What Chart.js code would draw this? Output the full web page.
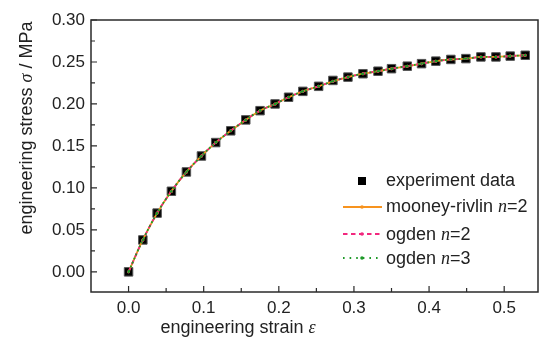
<!DOCTYPE html>
<html>
<head>
<meta charset="utf-8">
<script src="https://cdn.jsdelivr.net/npm/chart.js@4.4.1/dist/chart.umd.min.js"></script>
<style>
  html, body { margin: 0; padding: 0; background: #fff; }
  #wrap { width: 545px; height: 337px; }
</style>
</head>
<body>
<div id="wrap"><canvas id="c" width="545" height="337"></canvas></div>
<script>
// Engineering strain of each measurement
const strain = [0.000, 0.019, 0.038, 0.057, 0.077, 0.097, 0.116, 0.136, 0.156, 0.175,
                0.195, 0.213, 0.232, 0.253, 0.272, 0.292, 0.312, 0.332, 0.350, 0.371,
                0.390, 0.409, 0.429, 0.449, 0.469, 0.489, 0.508, 0.528];
// Measured engineering stress (MPa)
const stressExperiment = [0.000, 0.038, 0.070, 0.096, 0.119, 0.138, 0.154, 0.168, 0.181, 0.192,
                          0.200, 0.208, 0.215, 0.221, 0.228, 0.232, 0.236, 0.239, 0.242, 0.245,
                          0.248, 0.251, 0.253, 0.254, 0.256, 0.256, 0.257, 0.258];
// Fitted hyperelastic models (MPa)
const stressMooney2 = [0.000, 0.038, 0.070, 0.096, 0.119, 0.138, 0.154, 0.168, 0.181, 0.192,
                       0.200, 0.208, 0.215, 0.221, 0.227, 0.232, 0.236, 0.239, 0.242, 0.245,
                       0.248, 0.251, 0.253, 0.254, 0.256, 0.256, 0.257, 0.258];
const stressOgden2 = [0.000, 0.038, 0.070, 0.096, 0.119, 0.138, 0.154, 0.168, 0.181, 0.192,
                      0.200, 0.208, 0.215, 0.221, 0.227, 0.232, 0.236, 0.239, 0.242, 0.245,
                      0.248, 0.251, 0.253, 0.254, 0.256, 0.256, 0.257, 0.258];
const stressOgden3 = [0.000, 0.038, 0.070, 0.096, 0.119, 0.138, 0.154, 0.168, 0.181, 0.192,
                      0.200, 0.208, 0.215, 0.221, 0.227, 0.232, 0.236, 0.239, 0.242, 0.245,
                      0.248, 0.251, 0.253, 0.254, 0.256, 0.256, 0.257, 0.258];

const xTicks = [0.0, 0.1, 0.2, 0.3, 0.4, 0.5];
const xMinorTicks = [0.05, 0.15, 0.25, 0.35, 0.45];
const yTicks = [0.00, 0.05, 0.10, 0.15, 0.20, 0.25, 0.30];
const yMinorTicks = [0.025, 0.075, 0.125, 0.175, 0.225, 0.275];

const FONT = "'Liberation Sans', Arial, sans-serif";
const SERIF = "'Liberation Serif', 'DejaVu Serif', serif";
const C_ORANGE = '#f7931e';
const C_PINK = '#f2287e';
const C_GREEN = '#1e9a28';
const C_AXIS = '#2a2a2a';

const pts = arr => strain.map((x, i) => ({ x: x, y: arr[i] }));

// Frame, inward tick marks, axis titles and the legend
const decorations = {
  id: 'decorations',
  afterDraw(chart) {
    const { ctx, chartArea: a, scales: { x, y } } = chart;
    ctx.save();
    ctx.strokeStyle = C_AXIS;
    ctx.lineWidth = 1.5;
    ctx.strokeRect(a.left, a.top, a.right - a.left, a.bottom - a.top);

    ctx.lineWidth = 1.2;
    ctx.beginPath();
    xTicks.forEach(v => { const px = x.getPixelForValue(v); ctx.moveTo(px, a.bottom); ctx.lineTo(px, a.bottom - 6); });
    xMinorTicks.forEach(v => { const px = x.getPixelForValue(v); ctx.moveTo(px, a.bottom); ctx.lineTo(px, a.bottom - 4); });
    yTicks.forEach(v => { const py = y.getPixelForValue(v); ctx.moveTo(a.left, py); ctx.lineTo(a.left + 6, py); });
    yMinorTicks.forEach(v => { const py = y.getPixelForValue(v); ctx.moveTo(a.left, py); ctx.lineTo(a.left + 4, py); });
    ctx.stroke();

    // rich text helper: runs of [text, italicSerif]
    const runs = (parts, size) => parts.map(([t, it]) => ({
      t, font: it ? `italic ${size}px ${SERIF}` : `${size}px ${FONT}`
    }));
    const widthOf = rs => rs.reduce((w, r) => { ctx.font = r.font; return w + ctx.measureText(r.t).width; }, 0);
    const drawRuns = (rs, x0, y0) => {
      let cx = x0;
      rs.forEach(r => { ctx.font = r.font; ctx.fillText(r.t, cx, y0); cx += ctx.measureText(r.t).width; });
    };

    ctx.fillStyle = '#222';
    ctx.textBaseline = 'alphabetic';
    ctx.textAlign = 'left';

    // x title
    const xt = runs([['engineering strain ', false], ['\u03b5', true]], 18);
    drawRuns(xt, 238 - widthOf(xt) / 2, 333);

    // y title
    const yt = runs([['engineering stress ', false], ['\u03c3', true], [' / MPa', false]], 18);
    ctx.save();
    ctx.translate(32, 128);
    ctx.rotate(-Math.PI / 2);
    drawRuns(yt, -widthOf(yt) / 2, 0);
    ctx.restore();

    // legend
    const lx0 = 343, lx1 = 382, lmid = 362, tx = 386;
    const rows = [181, 207, 234, 258];
    ctx.textBaseline = 'middle';
    ctx.fillStyle = '#000';
    ctx.fillRect(lmid - 4, rows[0] - 4, 8, 8);

    const sample = (yy, color, dash, w) => {
      ctx.strokeStyle = color; ctx.lineWidth = w; ctx.setLineDash(dash);
      ctx.beginPath(); ctx.moveTo(lx0, yy); ctx.lineTo(lx1, yy); ctx.stroke();
      ctx.setLineDash([]);
      ctx.fillStyle = color;
      ctx.beginPath(); ctx.arc(lmid, yy, 1.8, 0, Math.PI * 2); ctx.fill();
    };
    sample(rows[1], C_ORANGE, [], 1.8);
    sample(rows[2], C_PINK, [4.5, 3.5], 1.8);
    sample(rows[3], C_GREEN, [1.6, 5], 1.8);

    ctx.fillStyle = '#222';
    drawRuns(runs([['experiment data', false]], 18), tx, rows[0]);
    drawRuns(runs([['mooney-rivlin ', false], ['n', true], ['=2', false]], 18), tx, rows[1]);
    drawRuns(runs([['ogden ', false], ['n', true], ['=2', false]], 18), tx, rows[2] + 1);
    drawRuns(runs([['ogden ', false], ['n', true], ['=3', false]], 18), tx, rows[3] + 1);
    ctx.restore();
  }
};

new Chart(document.getElementById('c'), {
  type: 'scatter',
  data: {
    datasets: [
      { label: 'ogden n=3', data: pts(stressOgden3), showLine: true, order: 1,
        borderColor: C_GREEN, borderWidth: 1.8, borderDash: [2, 2.5], tension: 0.4,
        pointRadius: 1.3, pointBackgroundColor: C_GREEN, pointBorderWidth: 0 },
      { label: 'ogden n=2', data: pts(stressOgden2), showLine: true, order: 2,
        borderColor: C_PINK, borderWidth: 1.8, borderDash: [4.5, 3.5], tension: 0.4,
        pointRadius: 1.5, pointBackgroundColor: C_PINK, pointBorderWidth: 0 },
      { label: 'mooney-rivlin n=2', data: pts(stressMooney2), showLine: true, order: 3,
        borderColor: C_ORANGE, borderWidth: 1.8, tension: 0.4,
        pointRadius: 1.5, pointBackgroundColor: C_ORANGE, pointBorderWidth: 0 },
      { label: 'experiment data', data: pts(stressExperiment), order: 4,
        pointStyle: 'rect', pointRadius: 6, backgroundColor: '#000',
        borderColor: '#555', borderWidth: 1 }
    ]
  },
  options: {
    responsive: false,
    devicePixelRatio: 1,
    animation: false,
    layout: { padding: { top: 20, right: 3, left: 0, bottom: 0 } },
    plugins: { legend: { display: false }, tooltip: { enabled: false } },
    scales: {
      x: {
        type: 'linear', min: -0.05, max: 0.545,
        afterBuildTicks: s => { s.ticks = xTicks.map(v => ({ value: v })); },
        afterFit: s => { s.height = 45; },
        grid: { display: false, drawTicks: false },
        border: { display: false },
        ticks: { font: { family: FONT, size: 17 }, color: '#222', padding: 6,
                 maxRotation: 0, autoSkip: false, callback: v => Number(v).toFixed(1) }
      },
      y: {
        type: 'linear', min: -0.024, max: 0.30,
        afterBuildTicks: s => { s.ticks = yTicks.map(v => ({ value: v })); },
        afterFit: s => { s.width = 91; },
        grid: { display: false, drawTicks: false },
        border: { display: false },
        ticks: { font: { family: FONT, size: 17 }, color: '#222', padding: 6,
                 autoSkip: false, callback: v => Number(v).toFixed(2) }
      }
    }
  },
  plugins: [decorations]
});
</script>
</body>
</html>
